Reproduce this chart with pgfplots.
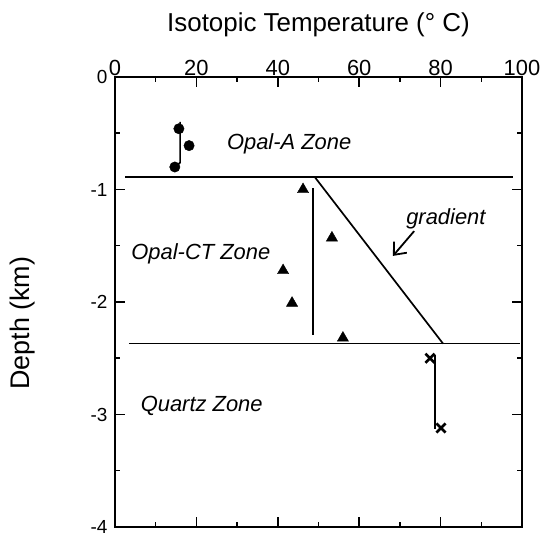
\documentclass[border=0pt]{standalone}
\usepackage{fontspec}
\setmainfont{Liberation Sans}
\usepackage{pgfplots}
\pgfplotsset{compat=1.18}
\usetikzlibrary{arrows.meta}
\begin{document}
\begin{tikzpicture}
\begin{axis}[
  scale only axis, width=407bp, height=450bp,
  xmin=0, xmax=100, ymin=-4, ymax=0,
  xtick={0,20,...,100}, minor xtick={10,30,...,90},
  ytick={-4,-3,...,0}, minor ytick={-3.5,-2.5,...,-0.5},
  tick align=inside, major tick length=10bp, minor tick length=5bp,
  xticklabel pos=upper,
  axis line style={line width=1.8bp},
  tick style={line width=1.5bp, black},
  /pgf/number format/assume math mode=true,
  xticklabel style={font=\fontsize{22}{22}\selectfont, yshift=-2bp},
  yticklabel style={font=\fontsize{19}{19}\selectfont, xshift=-4bp},
  xlabel={Isotopic Temperature (° C)},
  ylabel={Depth (km)},
  x label style={at={(axis description cs:0.5,1)}, anchor=center, yshift=52bp, font=\fontsize{26}{26}\selectfont},
  y label style={at={(axis description cs:-0.226,0.453)}, anchor=center, font=\fontsize{27}{27}\selectfont},
  clip=false,
]
\coordinate (SW) at (rel axis cs:0,0);
% zone boundaries
\addplot[black, line width=1.7bp, no marks] coordinates {(2.5,-0.89) (97.8,-0.89)};
\addplot[black, line width=1.7bp, no marks] coordinates {(3.4,-2.37) (99.5,-2.37)};
% gradient line
\addplot[black, line width=1.7bp, no marks] coordinates {(49.1,-0.89) (80.6,-2.37)};
% vertical mean line Opal-CT
\addplot[black, line width=1.7bp, no marks] coordinates {(48.6,-0.99) (48.6,-2.29)};
% Opal-A connector
\addplot[black, line width=1.7bp, no marks] coordinates {(16.0,-0.40) (16.0,-0.76) (15.0,-0.80)};
% Quartz connector
\addplot[black, line width=1.7bp, no marks] coordinates {(78.6,-2.47) (78.6,-3.13)};
% Opal-A points
\addplot[only marks, mark=*, mark size=5.2bp, black] coordinates {(15.7,-0.46) (18.2,-0.61) (14.7,-0.80)};
% Opal-CT points
\addplot[only marks, mark=triangle*, mark size=6.5bp, black] coordinates {(46.2,-1.0) (53.3,-1.43) (41.3,-1.72) (43.5,-2.01) (56.0,-2.32)};
% Quartz points
\addplot[only marks, mark=x, mark size=6.5bp, black, line width=2.6bp] coordinates {(77.4,-2.50) (80.1,-3.12)};
% labels
\node[font=\fontsize{22}{22}\selectfont\itshape] at (axis cs:42.8,-0.59) {Opal-A Zone};
\node[font=\fontsize{22}{22}\selectfont\itshape] at (axis cs:21.1,-1.57) {Opal-CT Zone};
\node[font=\fontsize{22}{22}\selectfont\itshape] at (axis cs:21.3,-2.92) {Quartz Zone};
\node[font=\fontsize{22}{22}\selectfont\itshape] at (axis cs:81.3,-1.26) {gradient};
\draw[line width=1.8bp, -{Straight Barb[length=10bp,width=17bp,line width=1.8bp]}] (axis cs:73.5,-1.37) -- (axis cs:68.3,-1.59);
\end{axis}
\pgfresetboundingbox
\path ([shift={(-115bp,-6bp)}]SW) rectangle ([shift={(427bp,527bp)}]SW);
\end{tikzpicture}
\end{document}
